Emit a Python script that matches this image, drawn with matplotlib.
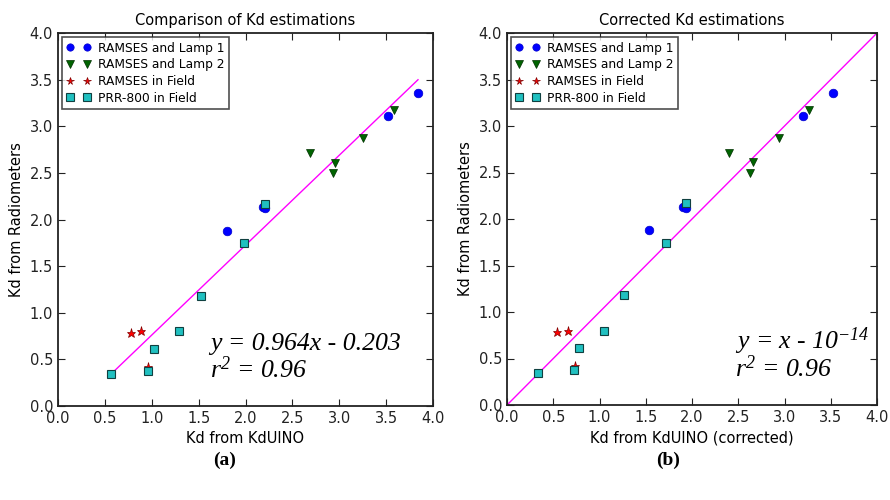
import matplotlib
matplotlib.use("Agg")
import matplotlib.pyplot as plt

plt.rcParams["mathtext.fontset"] = "custom"
plt.rcParams["mathtext.rm"] = "Liberation Serif:italic"
plt.rcParams["mathtext.it"] = "Liberation Serif:italic"

# valores
lamp1_x = [3.84, 3.52, 2.19, 2.21, 1.80]
lamp1_y = [3.36, 3.11, 2.13, 2.12, 1.88]
lamp2_x = [3.58, 2.69, 2.96, 2.93, 3.25]
lamp2_y = [3.17, 2.71, 2.61, 2.50, 2.87]
field_x = [0.78, 0.89, 0.96]
field_y = [0.78, 0.80, 0.42]
prr_x = [0.56, 0.96, 1.02, 1.29, 1.53, 1.98, 2.21]
prr_y = [0.34, 0.38, 0.61, 0.80, 1.18, 1.745, 2.17]

# eje x corregido (panel b)
lamp1_xc = [3.52, 3.20, 1.90, 1.93, 1.54]
lamp2_xc = [3.26, 2.40, 2.66, 2.63, 2.94]
field_xc = [0.54, 0.66, 0.73]
prr_xc = [0.34, 0.72, 0.78, 1.045, 1.27, 1.72, 1.93]

slope, intercept = 0.964, -0.203
ticks = [0.0, 0.5, 1.0, 1.5, 2.0, 2.5, 3.0, 3.5, 4.0]

fig = plt.figure(figsize=(8.9, 5), dpi=100)
ax1 = fig.add_axes([0.0652, 0.188, 0.4213, 0.746])
ax2 = fig.add_axes([0.5697, 0.19, 0.4157, 0.744])


def draw(ax, x1, x2, x3, x4, title, xlabel):
    ax.plot(x1, lamp1_y, "o", color="#0000ff", mec="#0000cc", mew=0.5, ms=6.2, label="RAMSES and Lamp 1", ls="none")
    ax.plot(x2, lamp2_y, "v", color="#006400", mec="#003000", mew=0.5, ms=6.2, label="RAMSES and Lamp 2", ls="none")
    ax.plot(x3, field_y, "*", color="#ff0000", mec="#800000", mew=0.5, ms=6.5, label="RAMSES in Field", ls="none")
    ax.plot(x4, prr_y, "s", color="#20c0c0", mec="#104040", mew=0.8, ms=6, label="PRR-800 in Field", ls="none")
    ax.set_xlim(0, 4)
    ax.set_ylim(0, 4)
    ax.set_xticks(ticks)
    ax.set_yticks(ticks)
    ax.tick_params(direction="in", top=True, right=True, labelsize=10.5, length=5, colors="#222222")
    ax.set_title(title, fontsize=10.5)
    ax.set_xlabel(xlabel, fontsize=10.5)
    ax.set_ylabel("Kd from Radiometers", fontsize=10.5)
    for s in ax.spines.values():
        s.set_linewidth(1.3)
        s.set_color("#222222")
    leg = ax.legend(loc="upper left", numpoints=2, fontsize=8.8, fancybox=False, markerscale=0.85,
                    borderaxespad=0.35, handletextpad=0.6, labelspacing=0.3, borderpad=0.35)
    leg.get_frame().set_edgecolor("#222222")
    leg.get_frame().set_linewidth(1.2)


draw(ax1, lamp1_x, lamp2_x, field_x, prr_x, "Comparison of Kd estimations", "Kd from KdUINO")
xs = [min(prr_x), max(lamp1_x)]
ax1.plot(xs, [slope * v + intercept for v in xs], color="#ff00ff", lw=1, zorder=1)
ax1.text(1.62, 0.6, "y = 0.964x - 0.203", family="Liberation Serif", style="italic", fontsize=18.5)
ax1.text(1.62, 0.3, r"r$^2$ = 0.96", family="Liberation Serif", style="italic", fontsize=18.5)

draw(ax2, lamp1_xc, lamp2_xc, field_xc, prr_xc, "Corrected Kd estimations", "Kd from KdUINO (corrected)")
ax2.plot([0, 4], [0, 4], color="#ff00ff", lw=1, zorder=1)
ax2.text(2.46, 0.6, r"y = x - 10$^{-14}$", family="Liberation Serif", style="italic", fontsize=18.5)
ax2.text(2.46, 0.3, r"r$^2$ = 0.96", family="Liberation Serif", style="italic", fontsize=18.5)

fig.text(0.2528, 0.08, "(a)", family="Liberation Serif", fontsize=14, fontweight="bold", ha="center", va="center")
fig.text(0.7506, 0.08, "(b)", family="Liberation Serif", fontsize=14, fontweight="bold", ha="center", va="center")

fig.savefig("out.png", dpi=100)
